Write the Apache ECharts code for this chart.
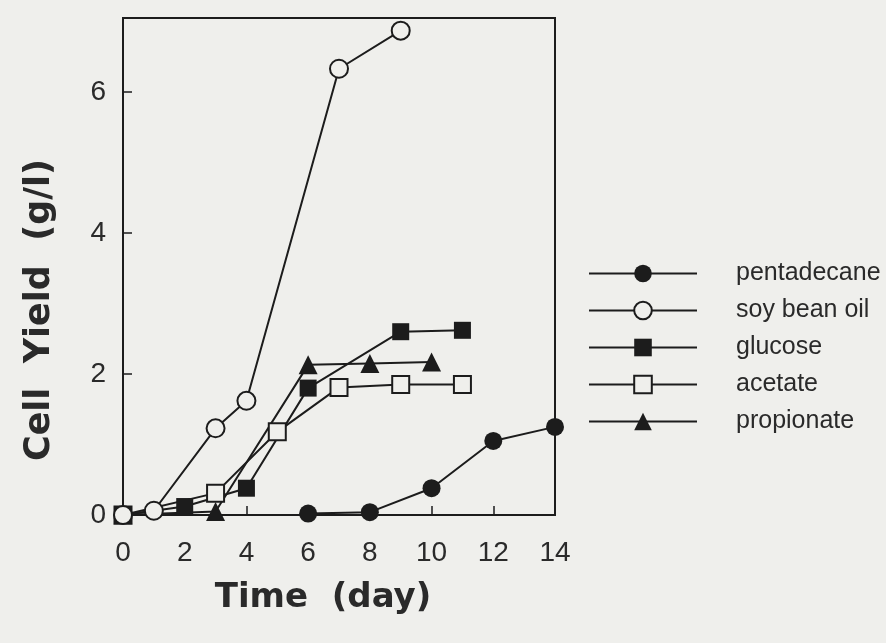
<!DOCTYPE html>
<html>
<head>
<meta charset="utf-8">
<script src="https://cdn.jsdelivr.net/npm/echarts@6/dist/echarts.min.js"></script>
<style>
  html, body { margin: 0; padding: 0; background: #efefec; }
  #chart { width: 886px; height: 643px; }
</style>
</head>
<body>
<div id="chart"></div>
<script>
// Cell yield (g/l) over culture time (day) for five carbon sources
const pentadecaneDay = [6, 8, 10, 12, 14];
const pentadecaneYield = [0.02, 0.04, 0.38, 1.05, 1.25];

const soyBeanOilDay = [0, 1, 3, 4, 7, 9];
const soyBeanOilYield = [0, 0.06, 1.23, 1.62, 6.33, 6.87];

const glucoseDay = [0, 2, 4, 6, 9, 11];
const glucoseYield = [0, 0.12, 0.38, 1.8, 2.6, 2.62];

const acetateDay = [0, 3, 5, 7, 9, 11];
const acetateYield = [0, 0.31, 1.18, 1.81, 1.85, 1.85];

const propionateDay = [0, 3, 6, 8, 10];
const propionateYield = [0, 0.05, 2.13, 2.15, 2.17];

const xTicks = [0, 2, 4, 6, 8, 10, 12, 14];
const yTicks = [0, 2, 4, 6];

const INK = '#1c1c1c';
const PAPER = '#efefec';
const FONT = '"Liberation Sans", Arial, Helvetica, sans-serif';
const TITLE_FONT = '"DejaVu Sans", "Liberation Sans", sans-serif';

function pairs(xs, ys) {
  return xs.map((x, i) => [x, ys[i]]);
}

function makeSeries(name, xs, ys, symbol, size, filled) {
  return {
    name: name,
    type: 'line',
    data: pairs(xs, ys),
    symbol: symbol,
    symbolSize: size,
    showAllSymbol: true,
    lineStyle: { color: INK, width: 2 },
    itemStyle: {
      color: filled ? INK : PAPER,
      borderColor: INK,
      borderWidth: filled ? 0 : 2
    },
    emphasis: { disabled: true },
    animation: false
  };
}

const chart = echarts.init(document.getElementById('chart'), null, { renderer: 'canvas' });

chart.setOption({
  backgroundColor: PAPER,
  animation: false,
  textStyle: { fontFamily: FONT },
  grid: {
    left: 123, top: 18, width: 432, height: 497,
    show: true, borderColor: INK, borderWidth: 2,
    backgroundColor: 'transparent'
  },
  legend: {
    orient: 'vertical',
    left: 588,
    top: 261,
    padding: 0,
    itemWidth: 108,
    itemHeight: 22,
    itemGap: 12,
    selectedMode: false,
    textStyle: {
      fontFamily: FONT,
      fontSize: 25,
      lineHeight: 25,
      color: '#2a2a2a',
      padding: [0, 0, 0, 34]
    },
    data: ['pentadecane', 'soy bean oil', 'glucose', 'acetate', 'propionate']
  },
  xAxis: {
    type: 'value',
    min: 0,
    max: 14,
    interval: 2,
    axisLine: { show: true, lineStyle: { color: INK, width: 2 } },
    axisTick: { show: true, inside: true, length: 9, lineStyle: { color: INK, width: 1.5 } },
    axisLabel: {
      customValues: xTicks,
      margin: 24,
      fontSize: 28,
      color: '#2a2a2a',
      fontFamily: FONT
    },
    splitLine: { show: false }
  },
  yAxis: {
    type: 'value',
    min: 0,
    max: 7.05,
    interval: 2,
    axisLine: { show: true, lineStyle: { color: INK, width: 2 } },
    axisTick: { show: true, inside: true, length: 9, customValues: yTicks, lineStyle: { color: INK, width: 1.5 } },
    axisLabel: {
      customValues: yTicks,
      margin: 17,
      fontSize: 28,
      color: '#2a2a2a',
      fontFamily: FONT
    },
    splitLine: { show: false }
  },
  graphic: [
    {
      type: 'text',
      x: 323, y: 598,
      style: {
        text: 'Time  (day)',
        font: 'bold 34px ' + TITLE_FONT,
        fill: '#2a2a2a',
        textAlign: 'center',
        textVerticalAlign: 'middle'
      }
    },
    {
      type: 'text',
      x: 40, y: 310,
      rotation: Math.PI / 2,
      style: {
        text: 'Cell  Yield  (g/l)',
        font: 'bold 35px ' + TITLE_FONT,
        fill: '#2a2a2a',
        textAlign: 'center',
        textVerticalAlign: 'middle'
      }
    }
  ],
  series: [
    makeSeries('acetate', acetateDay, acetateYield, 'rect', 17, false),
    makeSeries('glucose', glucoseDay, glucoseYield, 'rect', 17, true),
    makeSeries('propionate', propionateDay, propionateYield, 'triangle', 19, true),
    makeSeries('soy bean oil', soyBeanOilDay, soyBeanOilYield, 'circle', 18, false),
    makeSeries('pentadecane', pentadecaneDay, pentadecaneYield, 'circle', 18, true)
  ]
});
</script>
</body>
</html>
